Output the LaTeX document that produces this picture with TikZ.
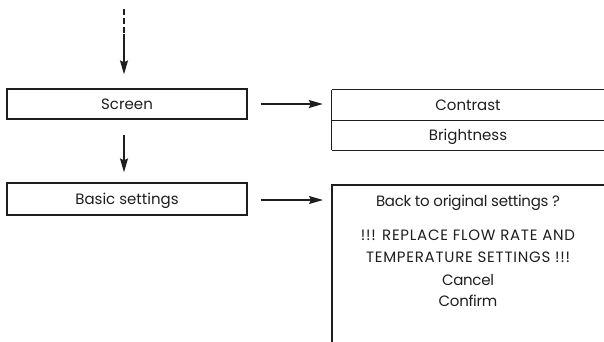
\documentclass[tikz,border=0pt]{standalone}
\usepackage{fontspec}
\setmainfont{Poppins}
\newfontfamily\capsfont[LetterSpace=5]{Poppins}
\newfontfamily\lowfont[LetterSpace=-2]{Poppins}
\usetikzlibrary{arrows.meta}
\definecolor{ink}{HTML}{1E1E1E}
\tikzset{
  txt/.style={font=\fontsize{15}{18}\selectfont, text=ink, inner sep=0pt},
  capstxt/.style={font=\capsfont\fontsize{15}{18}\selectfont, text=ink, inner sep=0pt},
  lowtxt/.style={font=\lowfont\fontsize{15}{18}\selectfont, text=ink, inner sep=0pt},
  menubox/.style={txt, draw=ink, line width=1.3pt, minimum width=240pt, text height=10.7pt, text depth=0pt},
  itembox/.style={txt, minimum width=272pt, minimum height=30pt, text height=10.7pt, text depth=0pt},
  frame/.style={draw=ink, line width=1.3pt},
  flow/.style={draw=ink, line width=1.3pt, -{Stealth[length=14pt,width=8pt,inset=2pt]}},
  dashseg/.style={draw=ink, line width=1.3pt, dash pattern=on 6pt off 3pt}
}
\begin{document}
\begin{tikzpicture}[x=1pt,y=-1pt]
\useasboundingbox (0,0) rectangle (604,341);
% left column
\node[menubox, minimum height=30pt] (screen) at (127,104) {Screen};
\node[menubox, minimum height=32pt] (basic) at (127,199) {Basic settings};
% incoming dashed arrow
\coordinate (top) at (124,9);
\coordinate (mid) at (124,34);
\draw[dashseg] (top) -- (mid);
\draw[flow, shorten >=14pt] (mid) -- (mid |- screen.north);
\draw[flow, shorten <=15pt, shorten >=10pt] (screen.south -| mid) -- (basic.north -| mid);
% right: contrast / brightness
\node[itembox] (contrast) at (468,105) {Contrast};
\node[itembox] (bright) at (468,135) {Brightness};
\draw[frame] (contrast.north west) -- ++(290,0);
\draw[frame] (contrast.south west) -- ++(290,0);
\draw[frame] (bright.south west) -- ++(290,0);
\draw[frame] (contrast.north west) -- (bright.south west);
% right: confirmation box (open at bottom and right)
\coordinate (bigtl) at (332,185);
\coordinate (bigin) at (332,200);
\draw[frame] (332,345) -- (bigtl) -- (612,185);
\node[lowtxt, anchor=base] (msga) at (468,206.7) {Back to original settings ?};
\node[capstxt, anchor=base] (msgb) at (468,240.7) {!!! REPLACE FLOW RATE AND};
\node[capstxt, anchor=base] (msgc) at (468,262.3) {TEMPERATURE SETTINGS !!!};
\node[lowtxt, anchor=base] (msgd) at (468,285) {Cancel};
\node[lowtxt, anchor=base] (msge) at (468,306) {Confirm};
% horizontal arrows
\draw[flow, shorten <=13pt, shorten >=9pt] (screen.east) -- (screen.east -| contrast.west);
\draw[flow, shorten <=13pt, shorten >=9pt] (basic.east |- bigin) -- (bigin);
\end{tikzpicture}
\end{document}
